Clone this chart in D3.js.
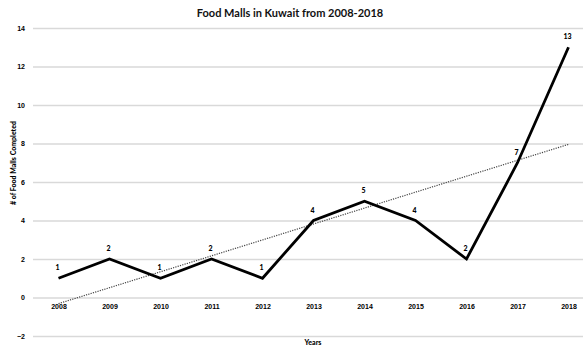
<!DOCTYPE html>
<html><head><meta charset="utf-8">
<script src="https://cdn.jsdelivr.net/npm/d3@7"></script>
<style>
html,body{margin:0;padding:0;background:#fff;}
svg{display:block;font-family:Lato,"Open Sans",sans-serif;}
</style></head>
<body>
<svg id="chart" width="583" height="347"></svg>
<script>
const years = ["2008","2009","2010","2011","2012","2013","2014","2015","2016","2017","2018"];
const malls = [1,2,1,2,1,4,5,4,2,7,13];
const yTicks = [-2,0,2,4,6,8,10,12,14];
const title = "Food Malls in Kuwait from 2008-2018";
const yTitle = "# of Food Malls Completed";
const xTitle = "Years";

(function () {
const svg = d3.select("#chart");
const pl = 33, pr = 594, pt = 28, pb = 336;

const x = d3.scalePoint().domain(years).range([pl + 25.5, pr - 25.5]);
const y = d3.scaleLinear().domain([-2, 14]).range([pb, pt]);

// gridlines
const yAxis = d3.axisLeft(y).tickValues(yTicks).tickSize(-(pr - pl)).tickFormat(d3.format("d"));
const gy = svg.append("g").attr("transform", `translate(${pl},0)`).call(yAxis);
gy.select(".domain").remove();
gy.selectAll(".tick line").attr("stroke", "#d9d9d9").attr("stroke-width", 1.3);
gy.selectAll(".tick text").attr("x", -8).attr("font-size", 7).attr("font-weight", 900).attr("fill", "#000");

// x axis labels at zero line
const xAxis = d3.axisBottom(x).tickSize(0).tickPadding(7);
const gx = svg.append("g").attr("transform", `translate(0,${y(0)})`).call(xAxis);
gx.select(".domain").remove();
gx.selectAll(".tick text").attr("font-size", 7).attr("font-weight", 900).attr("fill", "#000");

// trendline (least squares)
const n = malls.length;
const xs = d3.range(n);
const mx = d3.mean(xs), my = d3.mean(malls);
const slope = d3.sum(xs, (i) => (i - mx) * (malls[i] - my)) / d3.sum(xs, (i) => (i - mx) * (i - mx));
const icpt = my - slope * mx;
const trend = [[years[0], icpt], [years[n - 1], icpt + slope * (n - 1)]];
svg.append("path")
  .attr("d", d3.line().x(d => x(d[0])).y(d => y(d[1]))(trend))
  .attr("fill", "none").attr("stroke", "#444").attr("stroke-width", 1.2).attr("stroke-dasharray", "1.2,1.2");

// data line
svg.append("path")
  .datum(malls)
  .attr("d", d3.line().x((d, i) => x(years[i])).y(d => y(d)))
  .attr("fill", "none").attr("stroke", "#000").attr("stroke-width", 2.8).attr("stroke-linejoin", "miter");

// data labels
svg.append("g").selectAll("text").data(malls).join("text")
  .attr("x", (d, i) => x(years[i]) - 1)
  .attr("y", d => y(d) - 8)
  .attr("text-anchor", "middle")
  .attr("font-size", 7).attr("font-weight", 900).attr("fill", "#000")
  .text(d => d);

// titles
svg.append("text").attr("x", 290).attr("y", 17).attr("text-anchor", "middle")
  .attr("font-size", 11).attr("font-weight", "bold").attr("fill", "#111").text(title);
svg.append("text").attr("x", 313).attr("y", 345).attr("text-anchor", "middle")
  .attr("font-size", 7).attr("font-weight", 900).attr("fill", "#000").text(xTitle);
svg.append("text").attr("transform", "translate(16,163) rotate(-90)").attr("text-anchor", "middle")
  .attr("font-size", 7).attr("font-weight", 900).attr("fill", "#000").text(yTitle);
})();
</script>
</body></html>
